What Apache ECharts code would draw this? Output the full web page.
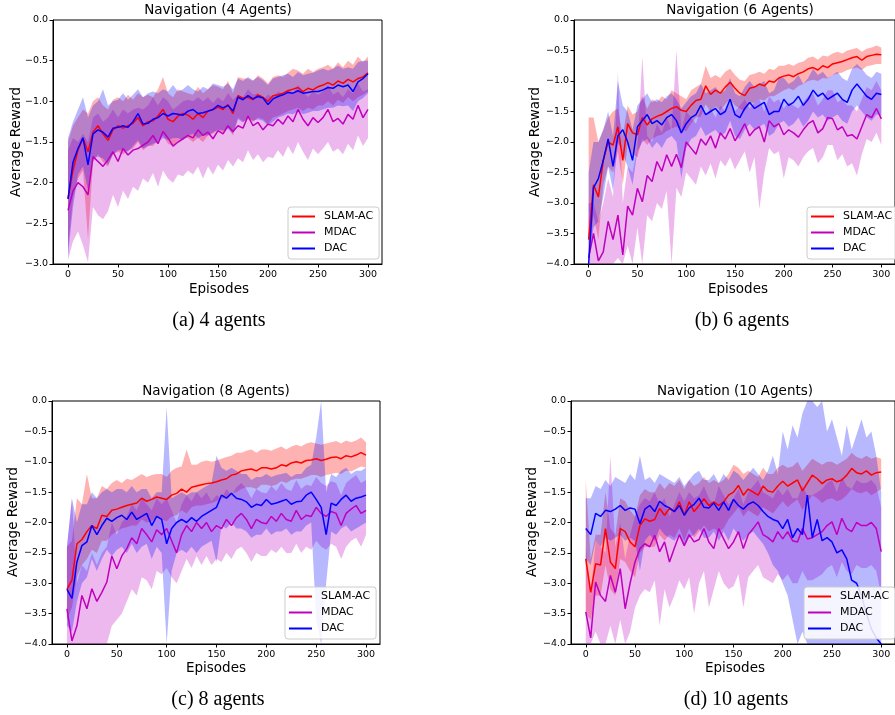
<!DOCTYPE html>
<html><head><meta charset="utf-8">
<script src="https://cdn.jsdelivr.net/npm/echarts@6.0.0/dist/echarts.min.js"></script>
<style>html,body{margin:0;padding:0;background:#fff}#c{width:895px;height:715px}</style>
</head><body><div id="c"></div>
<script>
// ---------------- DATA ----------------
const EPISODES = [0,5,10,15,20,25,30,35,40,45,50,55,60,65,70,75,80,85,90,95,100,105,110,115,120,125,130,135,140,145,150,155,160,165,170,175,180,185,190,195,200,205,210,215,220,225,230,235,240,245,250,255,260,265,270,275,280,285,290,295,300];
const X_TICKS = [0,50,100,150,200,250,300];
const METHODS = ['SLAM-AC','MDAC','DAC'];
const TITLES = ['Navigation (4 Agents)','Navigation (6 Agents)','Navigation (8 Agents)','Navigation (10 Agents)'];
const CAPTIONS = ['(a) 4 agents','(b) 6 agents','(c) 8 agents','(d) 10 agents'];
const Y_MINS = [-3,-4,-4,-4];

// Panel (a) 4 agents
const A_SLAM = [-2.2,-1.85,-1.6,-1.45,-1.62,-1.38,-1.3,-1.4,-1.48,-1.35,
-1.3,-1.33,-1.3,-1.27,-1.2,-1.3,-1.25,-1.24,-1.18,-1.1,
-1.22,-1.25,-1.18,-1.15,-1.17,-1.22,-1.15,-1.2,-1.12,-1.1,
-1.07,-1.1,-1.04,-1.15,-0.93,-0.96,-0.95,-0.98,-0.92,-0.95,
-1.0,-0.93,-0.92,-0.9,-0.87,-0.85,-0.83,-0.88,-0.84,-0.86,
-0.82,-0.8,-0.77,-0.8,-0.75,-0.78,-0.73,-0.76,-0.72,-0.7,-0.65];
const A_SLAM_HI = [-1.5,-1.3,-1.2,-1.1,-1.15,-1.0,-0.95,-1.05,-1.1,-0.98,
-0.95,-1.0,-0.92,-0.98,-0.9,-0.95,-0.92,-0.95,-0.85,-0.7,
-0.9,-0.95,-0.85,-0.88,-0.9,-0.92,-0.82,-0.9,-0.85,-0.8,
-0.82,-0.85,-0.75,-0.9,-0.7,-0.72,-0.72,-0.75,-0.68,-0.72,
-0.78,-0.7,-0.68,-0.7,-0.65,-0.6,-0.62,-0.66,-0.6,-0.64,
-0.6,-0.58,-0.55,-0.6,-0.52,-0.58,-0.5,-0.55,-0.45,-0.52,-0.45];
const A_SLAM_LO = [-2.8,-2.2,-1.95,-1.85,-2.7,-1.75,-1.65,-1.75,-1.8,-1.65,
-1.62,-1.65,-1.6,-1.58,-1.5,-1.6,-1.55,-1.55,-1.48,-1.42,
-1.52,-1.55,-1.48,-1.45,-1.45,-1.5,-1.45,-1.5,-1.42,-1.4,
-1.35,-1.38,-1.32,-1.42,-1.2,-1.25,-1.22,-1.25,-1.2,-1.22,
-1.28,-1.2,-1.18,-1.15,-1.12,-1.1,-1.08,-1.12,-1.08,-1.1,
-1.05,-1.05,-1.0,-1.05,-0.98,-1.02,-0.95,-1.0,-0.95,-0.92,-0.88];
const A_DAC = [-2.2,-1.75,-1.58,-1.45,-1.78,-1.4,-1.35,-1.38,-1.44,-1.33,
-1.32,-1.3,-1.32,-1.25,-1.15,-1.28,-1.27,-1.22,-1.2,-1.15,
-1.18,-1.15,-1.16,-1.17,-1.12,-1.1,-1.15,-1.14,-1.12,-1.1,
-1.05,-1.08,-1.05,-1.12,-0.95,-0.98,-0.93,-0.97,-0.94,-0.96,
-1.04,-0.97,-0.94,-0.92,-0.89,-0.9,-0.87,-0.9,-0.89,-0.88,
-0.88,-0.86,-0.83,-0.84,-0.8,-0.82,-0.8,-0.88,-0.76,-0.72,-0.66];
const A_DAC_HI = [-1.45,-1.25,-1.1,-0.95,-1.2,-1.05,-1.0,-0.85,-1.05,-1.0,
-0.98,-0.9,-0.98,-0.92,-0.85,-0.95,-0.9,-0.88,-0.9,-0.85,
-0.88,-0.8,-0.88,-0.85,-0.8,-0.85,-0.88,-0.82,-0.85,-0.78,
-0.8,-0.82,-0.78,-0.85,-0.72,-0.75,-0.7,-0.74,-0.7,-0.74,
-0.8,-0.72,-0.7,-0.68,-0.66,-0.7,-0.64,-0.68,-0.66,-0.65,
-0.62,-0.6,-0.62,-0.6,-0.56,-0.6,-0.58,-0.6,-0.52,-0.5,-0.5];
const A_DAC_LO = [-2.9,-2.3,-1.9,-1.8,-2.1,-1.7,-1.68,-1.7,-1.78,-1.65,
-1.6,-1.6,-1.62,-1.55,-1.48,-1.58,-1.55,-1.52,-1.5,-1.45,
-1.48,-1.45,-1.45,-1.48,-1.42,-1.4,-1.45,-1.42,-1.42,-1.38,
-1.35,-1.36,-1.34,-1.4,-1.22,-1.26,-1.2,-1.24,-1.22,-1.24,
-1.3,-1.25,-1.2,-1.18,-1.15,-1.16,-1.12,-1.16,-1.14,-1.12,
-1.12,-1.1,-1.08,-1.08,-1.05,-1.06,-1.05,-1.12,-1.0,-0.96,-0.9];
const A_MDAC = [-2.34,-2.1,-2.0,-2.05,-2.15,-1.68,-1.74,-1.8,-1.72,-1.62,
-1.74,-1.58,-1.66,-1.6,-1.58,-1.54,-1.5,-1.42,-1.52,-1.37,
-1.45,-1.55,-1.5,-1.46,-1.42,-1.45,-1.35,-1.42,-1.38,-1.46,
-1.36,-1.4,-1.3,-1.37,-1.3,-1.33,-1.18,-1.3,-1.26,-1.35,
-1.28,-1.3,-1.22,-1.28,-1.18,-1.25,-1.1,-1.22,-1.3,-1.2,
-1.26,-1.2,-1.1,-1.25,-1.21,-1.28,-1.16,-1.22,-1.05,-1.2,-1.1];
const A_MDAC_HI = [-1.6,-1.45,-1.5,-1.4,-1.5,-1.2,-1.15,-1.25,-1.2,-1.1,
-1.2,-1.1,-1.15,-1.1,-1.08,-1.1,-1.05,-0.95,-1.05,-0.95,
-1.0,-1.1,-1.05,-1.0,-0.98,-1.0,-0.95,-1.0,-0.95,-1.02,
-0.95,-1.0,-0.9,-0.98,-0.92,-0.95,-0.85,-0.92,-0.9,-0.98,
-0.92,-0.95,-0.88,-0.92,-0.85,-0.9,-0.8,-0.88,-0.95,-0.88,
-0.92,-0.88,-0.8,-0.92,-0.88,-0.95,-0.85,-0.9,-0.78,-0.88,-0.85];
const A_MDAC_LO = [-2.95,-2.72,-2.6,-2.77,-2.98,-2.3,-2.4,-2.45,-2.35,-2.15,
-2.3,-2.1,-2.2,-2.05,-2.1,-1.95,-2.0,-1.88,-2.05,-1.85,
-1.95,-2.0,-1.9,-1.92,-1.85,-1.9,-1.8,-1.95,-1.8,-1.9,
-1.78,-1.85,-1.72,-1.8,-1.7,-1.75,-1.6,-1.72,-1.65,-1.75,
-1.68,-1.7,-1.6,-1.68,-1.55,-1.65,-1.5,-1.62,-1.72,-1.58,
-1.65,-1.58,-1.5,-1.62,-1.58,-1.65,-1.52,-1.6,-1.42,-1.55,-1.45];

// Panel (b) 6 agents
const B_SLAM = [-3.6,-2.7,-2.9,-2.3,-2.0,-2.05,-1.75,-2.3,-1.7,-1.85,
-1.88,-1.6,-1.72,-1.62,-1.58,-1.55,-1.5,-1.45,-1.42,-1.48,
-1.5,-1.4,-1.32,-1.3,-1.08,-1.22,-1.15,-1.2,-1.1,-1.02,
-1.12,-1.2,-1.24,-1.12,-1.1,-1.05,-1.08,-1.0,-1.02,-0.95,
-0.92,-0.9,-0.93,-0.88,-0.85,-0.8,-0.78,-0.82,-0.75,-0.78,
-0.72,-0.7,-0.68,-0.65,-0.62,-0.6,-0.66,-0.6,-0.58,-0.56,-0.57];
const B_SLAM_HI = [-1.6,-1.6,-2.0,-1.8,-1.6,-1.5,-1.45,-1.9,-1.4,-1.55,
-1.5,-1.25,-1.45,-1.3,-1.35,-1.25,-1.3,-1.15,-1.2,-1.25,
-1.3,-1.15,-1.1,-1.05,-0.75,-0.95,-0.9,-0.95,-0.85,-0.8,
-0.9,-0.98,-1.0,-0.9,-0.88,-0.85,-0.88,-0.8,-0.82,-0.75,
-0.75,-0.72,-0.75,-0.7,-0.68,-0.62,-0.6,-0.65,-0.58,-0.6,
-0.55,-0.52,-0.55,-0.5,-0.48,-0.46,-0.52,-0.47,-0.45,-0.42,-0.45];
const B_SLAM_LO = [-4.0,-3.2,-3.6,-2.7,-2.4,-2.5,-2.15,-2.7,-2.05,-2.2,
-2.25,-1.95,-2.05,-1.95,-1.9,-1.88,-1.82,-1.78,-1.75,-1.8,
-1.82,-1.7,-1.6,-1.58,-1.38,-1.5,-1.42,-1.48,-1.38,-1.3,
-1.4,-1.45,-1.5,-1.38,-1.35,-1.3,-1.32,-1.25,-1.25,-1.2,
-1.15,-1.12,-1.15,-1.08,-1.05,-1.0,-0.98,-1.0,-0.95,-0.96,
-0.9,-0.88,-0.86,-0.82,-0.8,-0.78,-0.82,-0.76,-0.74,-0.72,-0.72];
const B_DAC = [-4.0,-2.75,-2.6,-2.3,-1.95,-2.4,-1.9,-1.8,-2.0,-2.3,
-1.75,-1.65,-1.55,-1.7,-1.65,-1.72,-1.6,-1.55,-1.65,-1.85,
-1.7,-1.6,-1.55,-1.4,-1.55,-1.5,-1.45,-1.55,-1.5,-1.3,
-1.55,-1.6,-1.45,-1.35,-1.45,-1.4,-1.35,-1.55,-1.5,-1.5,
-1.3,-1.4,-1.35,-1.25,-1.4,-1.3,-1.15,-1.25,-1.2,-1.3,
-1.25,-1.2,-1.3,-1.35,-1.15,-1.05,-1.15,-1.25,-1.3,-1.2,-1.22];
const B_DAC_HI = [-2.5,-2.0,-2.0,-1.8,-1.5,-1.9,-1.0,-1.4,-1.5,-1.8,
-1.4,-1.3,-1.2,-1.35,-1.3,-1.35,-1.25,-1.2,-1.3,-1.45,
-1.35,-1.25,-1.2,-1.05,-1.2,-1.15,-1.1,-1.2,-1.15,-0.95,
-1.2,-1.25,-1.1,-1.0,-1.1,-1.05,-1.0,-1.2,-1.15,-0.95,
-0.95,-1.05,-1.0,-0.9,-1.05,-0.95,-0.8,-0.9,-0.85,-0.95,
-0.9,-0.85,-0.95,-1.0,-0.8,-0.72,-0.8,-0.9,-0.95,-0.85,-0.88];
const B_DAC_LO = [-4.0,-3.4,-3.3,-2.9,-2.4,-2.8,-2.0,-2.2,-2.4,-2.7,
-2.15,-2.0,-1.95,-2.1,-2.0,-2.1,-1.95,-1.9,-2.0,-2.6,
-2.1,-1.95,-1.9,-1.75,-1.9,-1.85,-1.8,-1.9,-1.85,-1.65,
-1.9,-1.95,-1.8,-1.7,-1.8,-1.75,-1.7,-1.9,-1.85,-1.7,
-1.65,-1.75,-1.7,-1.6,-1.75,-1.65,-1.5,-1.6,-1.55,-1.65,
-1.6,-1.55,-1.65,-1.7,-1.5,-1.4,-1.5,-1.6,-1.65,-1.55,-1.56];
const B_MDAC = [-3.9,-3.5,-3.95,-3.8,-3.3,-3.6,-3.2,-3.85,-3.05,-3.2,
-2.76,-2.98,-2.55,-2.65,-2.32,-2.48,-2.21,-2.4,-2.2,-2.42,
-2.0,-2.1,-2.2,-1.95,-2.05,-1.9,-2.1,-1.85,-1.95,-1.78,
-1.98,-1.85,-1.7,-1.9,-1.8,-1.75,-2.0,-1.65,-1.75,-1.7,
-1.88,-1.8,-1.85,-1.92,-1.8,-1.7,-1.65,-1.85,-1.78,-1.6,
-1.62,-1.8,-1.75,-1.9,-1.88,-1.95,-1.75,-1.55,-1.6,-1.45,-1.62];
const B_MDAC_HI = [-3.0,-3.0,-3.3,-3.0,-2.6,-2.9,-0.85,-3.0,-2.4,-2.5,
-2.1,-0.6,-1.9,-2.0,-1.7,-1.85,-1.6,-1.8,-0.5,-1.8,
-1.5,-1.6,-1.7,-1.45,-1.55,-1.45,-1.6,-1.4,-1.5,-1.35,
-1.5,-1.4,-1.3,-1.45,-1.35,-1.3,-1.5,-1.25,-1.35,-1.3,
-1.45,-1.35,-1.4,-1.45,-1.35,-1.25,-1.2,-1.4,-1.3,-1.15,
-1.15,-1.35,-1.3,-1.4,-1.4,-1.5,-1.3,-1.1,-1.15,-1.0,-1.15];
const B_MDAC_LO = [-4.0,-4.0,-4.0,-4.0,-4.0,-4.0,-3.9,-4.0,-3.7,-4.0,
-3.4,-4.0,-3.2,-3.3,-3.0,-3.1,-2.8,-4.0,-2.75,-2.9,
-2.5,-2.6,-2.7,-2.4,-2.55,-2.35,-2.6,-2.3,-2.4,-2.25,
-2.45,-2.3,-2.15,-2.5,-2.25,-3.1,-2.5,-2.1,-2.2,-2.15,
-2.6,-2.25,-2.3,-2.4,-2.25,-2.15,-2.1,-2.35,-2.25,-2.05,
-2.05,-2.3,-2.2,-2.4,-2.35,-2.55,-2.2,-1.95,-2.0,-1.85,-2.05];

// Panel (c) 8 agents
const C_SLAM = [-3.1,-2.95,-2.35,-2.28,-2.15,-2.05,-2.1,-1.88,-1.9,-1.8,
-1.78,-1.75,-1.72,-1.7,-1.68,-1.6,-1.65,-1.62,-1.58,-1.6,
-1.62,-1.55,-1.52,-1.45,-1.5,-1.42,-1.4,-1.38,-1.36,-1.35,
-1.33,-1.3,-1.28,-1.22,-1.2,-1.15,-1.13,-1.12,-1.15,-1.1,
-1.1,-1.12,-1.1,-1.05,-1.07,-1.02,-1.0,-1.02,-0.98,-0.97,
-0.95,-0.98,-0.96,-0.93,-0.92,-0.95,-0.9,-0.92,-0.89,-0.85,-0.89];
const C_SLAM_HI = [-2.4,-2.3,-1.6,-1.7,-1.2,-1.6,-1.6,-1.4,-1.45,-1.35,
-1.3,-1.35,-1.28,-1.3,-1.25,-1.2,-1.25,-1.22,-1.2,-1.2,
-1.25,-1.15,-1.1,-1.08,-0.8,-1.05,-1.05,-1.0,-0.98,-1.0,
-0.98,-0.95,-0.92,-0.9,-0.85,-0.85,-0.82,-0.8,-0.85,-0.8,
-0.8,-0.82,-0.78,-0.75,-0.8,-0.75,-0.72,-0.75,-0.7,-0.68,
-0.7,-0.72,-0.7,-0.68,-0.66,-0.7,-0.65,-0.68,-0.65,-0.6,-0.68];
const C_SLAM_LO = [-3.6,-3.4,-2.9,-2.7,-2.6,-2.45,-2.5,-2.3,-2.3,-2.2,
-2.15,-2.1,-2.08,-2.05,-2.05,-1.95,-2.0,-1.98,-1.92,-1.95,
-1.98,-1.9,-1.88,-1.8,-1.85,-1.75,-1.72,-1.72,-1.7,-1.68,
-1.65,-1.6,-1.6,-1.52,-1.5,-1.45,-1.42,-1.42,-1.45,-1.38,
-1.38,-1.4,-1.38,-1.32,-1.35,-1.3,-1.28,-1.28,-1.25,-1.22,
-1.22,-1.25,-1.22,-1.2,-1.18,-1.2,-1.15,-1.16,-1.12,-1.08,-1.1];
const C_DAC = [-3.1,-3.25,-2.65,-2.38,-2.32,-2.05,-2.2,-2.05,-1.93,-1.98,
-1.92,-1.88,-1.95,-1.83,-1.95,-1.9,-1.85,-2.05,-1.9,-1.95,
-2.35,-2.1,-2.0,-1.95,-2.0,-1.92,-1.98,-1.9,-1.85,-1.8,
-1.75,-1.55,-1.6,-1.52,-1.6,-1.62,-1.66,-1.75,-1.7,-1.72,
-1.62,-1.7,-1.68,-1.65,-1.62,-1.7,-1.66,-1.65,-1.55,-1.5,
-1.62,-1.75,-2.2,-1.68,-1.72,-1.62,-1.55,-1.65,-1.6,-1.58,-1.55];
const C_DAC_HI = [-2.4,-1.6,-2.0,-1.7,-1.7,-1.5,-1.6,-1.5,-1.45,-1.5,
-1.45,-1.45,-1.5,-1.4,-1.5,-1.45,-1.45,-1.6,-1.5,-1.5,
-0.1,-1.6,-1.55,-1.5,-1.55,-1.5,-1.5,-1.45,-1.4,-1.35,
-0.9,-1.1,-1.15,-1.1,-1.15,-1.2,-1.2,-1.3,-1.25,-1.25,
-1.2,-1.25,-1.22,-1.2,-1.18,-1.25,-1.2,-1.2,-1.1,-1.05,
-0.6,0.0,-1.5,-1.2,-1.25,-1.15,-1.1,-1.2,-1.15,-1.15,-1.1];
const C_DAC_LO = [-3.7,-3.8,-3.3,-3.0,-2.9,-2.6,-2.8,-2.6,-2.45,-2.55,
-2.45,-2.4,-2.5,-2.35,-2.5,-2.4,-2.35,-2.6,-2.4,-2.5,
-4.0,-2.8,-2.5,-2.45,-2.5,-2.4,-2.5,-2.4,-2.35,-2.3,
-2.65,-2.05,-2.1,-2.0,-2.1,-2.1,-2.15,-2.25,-2.2,-2.2,
-2.1,-2.2,-2.15,-2.15,-2.1,-2.2,-2.15,-2.15,-2.05,-2.0,
-3.6,-4.0,-3.0,-2.15,-2.2,-2.1,-2.05,-2.15,-2.1,-2.05,-2.0];
const C_MDAC = [-3.42,-3.95,-3.7,-3.2,-3.42,-3.09,-3.3,-3.15,-2.98,-2.55,
-2.76,-2.55,-2.43,-2.25,-2.35,-2.1,-2.2,-2.32,-2.12,-2.2,
-2.1,-2.3,-2.5,-2.2,-2.05,-2.15,-2.0,-2.1,-2.0,-2.15,
-2.05,-2.1,-1.95,-2.05,-1.92,-1.85,-1.95,-2.1,-1.95,-2.0,
-2.02,-1.9,-1.98,-1.85,-1.95,-1.98,-1.8,-1.95,-1.88,-1.9,
-1.75,-1.85,-1.9,-1.82,-1.85,-2.05,-1.85,-1.78,-1.72,-1.85,-1.8];
const C_MDAC_HI = [-2.4,-1.6,-3.0,-2.7,-2.8,-2.5,-2.7,-2.5,-2.4,-2.0,
-2.2,-2.0,-1.9,-1.7,-1.8,-1.6,-1.7,-1.8,-1.6,-1.7,
-1.6,-1.8,-2.0,-1.7,-1.55,-1.65,-1.5,-1.6,-1.5,-1.65,
-1.55,-1.6,-1.45,-1.55,-1.42,-1.35,-1.45,-1.6,-1.45,-1.5,
-1.52,-1.4,-1.48,-1.35,-1.45,-1.48,-1.3,-1.45,-1.38,-1.4,
-1.25,-1.35,-1.4,-1.32,-1.35,-1.55,-1.35,-1.28,-1.22,-1.35,-1.3];
const C_MDAC_LO = [-4.0,-4.0,-4.0,-4.0,-4.0,-4.0,-4.0,-4.0,-4.0,-3.7,
-3.6,-3.5,-3.3,-3.1,-3.2,-2.9,-2.95,-3.1,-2.8,-2.85,
-2.75,-2.9,-3.0,-2.8,-2.6,-2.75,-2.55,-2.7,-2.55,-2.7,
-2.6,-2.65,-2.5,-2.6,-2.45,-2.4,-2.5,-2.65,-2.5,-2.55,
-2.55,-2.45,-2.5,-2.4,-2.5,-2.5,-2.35,-2.5,-2.4,-2.45,
-2.3,-2.4,-2.45,-2.35,-2.4,-2.6,-2.4,-2.3,-2.25,-2.4,-2.2];

// Panel (d) 10 agents
const D_SLAM = [-2.6,-3.15,-2.68,-2.7,-2.1,-2.65,-2.76,-2.1,-2.15,-2.32,
-2.4,-2.05,-1.94,-1.98,-1.95,-1.77,-1.88,-1.77,-1.82,-1.66,
-1.88,-1.66,-1.82,-1.72,-1.61,-1.72,-1.66,-1.72,-1.66,-1.55,
-1.5,-1.39,-1.55,-1.45,-1.5,-1.55,-1.4,-1.48,-1.5,-1.4,
-1.32,-1.4,-1.35,-1.3,-1.48,-1.35,-1.22,-1.28,-1.36,-1.3,
-1.28,-1.33,-1.3,-1.22,-1.11,-1.18,-1.2,-1.15,-1.22,-1.18,-1.17];
const D_SLAM_HI = [-1.3,-2.6,-2.2,-2.2,-1.5,-2.1,-2.2,-1.6,-1.65,-1.8,
-1.9,-1.55,-1.45,-1.5,-1.5,-1.35,-1.45,-1.35,-1.4,-1.3,
-1.45,-1.3,-1.4,-1.35,-1.25,-1.35,-1.3,-1.35,-1.3,-1.2,
-1.05,-1.1,-1.2,-1.15,-1.2,-1.25,-1.1,-1.2,-1.2,-1.1,
-1.05,-1.1,-1.08,-1.0,-1.15,-1.05,-0.95,-1.0,-1.05,-1.0,
-1.0,-1.05,-1.0,-0.95,-0.85,-0.92,-0.95,-0.9,-0.95,-0.92,-0.95];
const D_SLAM_LO = [-3.5,-3.6,-3.2,-3.2,-2.7,-3.1,-3.2,-2.6,-2.65,-2.8,
-2.9,-2.5,-2.4,-2.4,-2.4,-2.2,-2.3,-2.2,-2.25,-2.1,
-2.3,-2.1,-2.25,-2.15,-2.05,-2.15,-2.1,-2.15,-2.1,-1.95,
-1.85,-1.75,-1.9,-1.8,-1.85,-1.9,-1.75,-1.8,-1.85,-1.75,
-1.65,-1.75,-1.68,-1.62,-1.8,-1.68,-1.55,-1.6,-1.68,-1.62,
-1.6,-1.65,-1.62,-1.55,-1.45,-1.5,-1.52,-1.48,-1.55,-1.5,-1.45];
const D_DAC = [-2.1,-2.2,-1.85,-1.9,-1.8,-1.82,-1.78,-1.72,-1.8,-1.76,
-1.78,-2.02,-1.78,-1.72,-1.82,-1.65,-1.72,-1.76,-1.82,-1.72,
-1.88,-1.76,-1.7,-1.6,-1.75,-1.76,-1.68,-1.8,-1.66,-1.8,
-1.62,-1.72,-1.78,-1.7,-1.66,-1.72,-1.82,-1.9,-1.95,-1.98,
-2.1,-1.95,-2.25,-2.1,-2.2,-1.55,-2.25,-1.95,-2.3,-2.25,
-2.32,-2.5,-2.45,-2.6,-2.95,-3.0,-3.2,-3.5,-3.75,-3.9,-4.0];
const D_DAC_HI = [-1.6,-1.6,-1.4,-1.45,-1.3,-1.4,-1.25,-1.3,-1.35,-1.2,
-1.3,-0.9,-1.3,-1.25,-1.35,-1.2,-1.25,-1.3,-1.35,-1.25,
-1.4,-1.3,-1.2,-1.15,-1.3,-1.3,-1.2,-1.35,-1.2,-1.3,
-1.15,-1.2,-1.3,-1.2,-1.1,-1.2,-1.3,-1.15,-0.9,-1.2,
-0.5,-0.8,-0.4,-0.6,-0.2,0.0,0.0,-0.1,0.0,-0.5,
-0.3,-0.6,-0.9,-0.4,-0.8,-0.55,-0.3,-0.6,-0.5,-0.9,-1.5];
const D_DAC_LO = [-2.6,-2.7,-2.3,-2.4,-2.25,-2.3,-2.25,-2.2,-2.3,-2.25,
-2.3,-2.8,-2.3,-2.2,-2.3,-2.1,-2.2,-2.25,-2.3,-2.2,
-2.4,-2.25,-2.2,-2.1,-2.25,-2.25,-2.15,-2.3,-2.15,-2.3,
-2.1,-2.2,-2.3,-2.2,-2.15,-2.25,-2.35,-2.5,-2.7,-2.8,
-3.0,-3.2,-3.6,-4.0,-3.8,-4.0,-4.0,-4.0,-4.0,-4.0,
-4.0,-4.0,-4.0,-4.0,-4.0,-4.0,-4.0,-4.0,-4.0,-4.0,-4.0];
const D_MDAC = [-3.47,-3.9,-2.98,-3.2,-3.3,-2.87,-3.15,-2.76,-3.42,-3.0,
-2.65,-2.43,-2.35,-2.4,-2.21,-2.48,-2.32,-2.65,-2.42,-2.2,
-2.38,-2.2,-2.32,-2.28,-2.1,-2.32,-2.43,-2.1,-2.27,-2.43,
-2.32,-2.15,-2.43,-2.2,-2.1,-1.99,-2.2,-2.25,-2.32,-2.15,
-2.27,-2.15,-2.3,-2.32,-2.1,-2.27,-2.25,-2.2,-2.15,-2.05,
-1.99,-2.2,-1.93,-2.1,-2.15,-2.0,-2.05,-2.05,-2.0,-2.1,-2.48];
const D_MDAC_HI = [-2.4,-3.2,-2.3,-2.4,-2.5,-0.9,-2.4,-2.0,-2.6,-2.2,
-1.9,-1.7,-1.6,-1.65,-1.5,-1.7,-1.6,-1.9,-1.7,-1.5,
-1.65,-1.5,-1.6,-1.55,-1.4,-1.6,-1.7,-1.4,-1.55,-1.7,
-1.6,-1.45,-1.7,-1.5,-1.4,-1.3,-1.5,-1.55,-1.6,-1.45,
-1.55,-1.45,-1.6,-1.6,-1.4,-1.55,-1.55,-1.5,-1.45,-1.35,
-1.3,-1.5,-1.25,-1.4,-1.45,-1.3,-1.35,-1.35,-1.3,-1.4,-1.75];
const D_MDAC_LO = [-4.0,-4.0,-3.8,-4.0,-4.0,-3.7,-4.0,-3.6,-4.0,-3.8,
-3.4,-3.2,-3.1,-3.15,-2.95,-3.7,-3.1,-3.4,-3.2,-2.95,
-3.1,-2.9,-3.5,-3.0,-2.8,-3.4,-3.1,-2.8,-3.0,-3.1,
-3.05,-2.85,-3.4,-2.9,-2.8,-2.7,-2.9,-2.95,-3.0,-2.85,
-2.95,-2.85,-3.0,-3.0,-2.8,-2.95,-2.95,-2.9,-2.85,-2.75,
-2.7,-2.9,-2.65,-2.8,-2.85,-2.7,-2.75,-2.75,-2.7,-2.8,-3.2];

// ---------------- LAYOUT / STYLE ----------------
const PANEL_DATA = [
  {'SLAM-AC':[A_SLAM,A_SLAM_LO,A_SLAM_HI], 'MDAC':[A_MDAC,A_MDAC_LO,A_MDAC_HI], 'DAC':[A_DAC,A_DAC_LO,A_DAC_HI]},
  {'SLAM-AC':[B_SLAM,B_SLAM_LO,B_SLAM_HI], 'MDAC':[B_MDAC,B_MDAC_LO,B_MDAC_HI], 'DAC':[B_DAC,B_DAC_LO,B_DAC_HI]},
  {'SLAM-AC':[C_SLAM,C_SLAM_LO,C_SLAM_HI], 'MDAC':[C_MDAC,C_MDAC_LO,C_MDAC_HI], 'DAC':[C_DAC,C_DAC_LO,C_DAC_HI]},
  {'SLAM-AC':[D_SLAM,D_SLAM_LO,D_SLAM_HI], 'MDAC':[D_MDAC,D_MDAC_LO,D_MDAC_HI], 'DAC':[D_DAC,D_DAC_LO,D_DAC_HI]}
];
const LAYOUT = [
  {grid:{left:53, top:20, width:329, height:244}, title:[218,10], xname:[219,289], yname:[16,142], caption:[219,321], legend:[288,207]},
  {grid:{left:574, top:20, width:329, height:244}, title:[740,10], xname:[738,289], yname:[535,142], caption:[742,321], legend:[807,207]},
  {grid:{left:52, top:401, width:328, height:243}, title:[216,391], xname:[216,668], yname:[13,522], caption:[218,700], legend:[285,587]},
  {grid:{left:571, top:401, width:329, height:243}, title:[735,391], xname:[735,668], yname:[532,522], caption:[736,700], legend:[804,587]}
];
const LINE_COLOR = {'SLAM-AC':'#ff0000', 'MDAC':'#bf00bf', 'DAC':'#0000ff'};
const BAND_COLOR = {'SLAM-AC':'rgba(255,0,0,0.3)', 'MDAC':'rgba(191,0,191,0.28)', 'DAC':'rgba(0,0,255,0.28)'};
const FONT = 'DejaVu Sans, sans-serif';

function fmtY(v){
  if (Math.abs(v) < 1e-9) return '0.0';
  return (v < 0 ? '\u2212' : '') + Math.abs(v).toFixed(1);
}

function bandSeries(gi, lo, hi, color){
  return {
    type:'custom', xAxisIndex:gi, yAxisIndex:gi, silent:true, z:1, clip:true,
    data: EPISODES.map((x,k)=>[x, lo[k], hi[k]]),
    encode:{x:0, y:[1,2]},
    renderItem: function(params, api){
      if (params.dataIndex !== 0) return null;
      const pts = [];
      for (let k=0;k<EPISODES.length;k++) pts.push(api.coord([EPISODES[k], hi[k]]));
      for (let k=EPISODES.length-1;k>=0;k--) pts.push(api.coord([EPISODES[k], lo[k]]));
      return {type:'polygon', shape:{points:pts}, style:{fill:color, stroke:null}};
    }
  };
}

const grids=[], xAxes=[], yAxes=[], series=[], legends=[], graphics=[];
for (let i=0;i<4;i++){
  const L = LAYOUT[i];
  grids.push(Object.assign({show:true, borderColor:'#000', borderWidth:1, backgroundColor:'transparent', containLabel:false}, L.grid));
  xAxes.push({
    type:'value', gridIndex:i, min:-15, max:314,
    axisLine:{show:true, onZero:false, lineStyle:{color:'#000', width:1}},
    axisTick:{show:true, inside:false, length:3.5, lineStyle:{color:'#000', width:1}, customValues:X_TICKS},
    axisLabel:{show:true, margin:6, fontSize:9.5, fontFamily:FONT, color:'#000', customValues:X_TICKS, formatter: v=>String(v)},
    splitLine:{show:false}
  });
  yAxes.push({
    type:'value', gridIndex:i, min:Y_MINS[i], max:0, interval:0.5,
    axisLine:{show:true, onZero:false, lineStyle:{color:'#000', width:1}},
    axisTick:{show:true, inside:false, length:3.5, lineStyle:{color:'#000', width:1}},
    axisLabel:{show:true, margin:5, fontSize:9.5, fontFamily:FONT, color:'#000', formatter: fmtY},
    splitLine:{show:false}
  });
  METHODS.forEach(m=>{
    const d = PANEL_DATA[i][m];
    series.push(bandSeries(i, d[1], d[2], BAND_COLOR[m]));
  });
  METHODS.forEach(m=>{
    const d = PANEL_DATA[i][m];
    series.push({
      type:'line', name:m, xAxisIndex:i, yAxisIndex:i, z:3,
      data: EPISODES.map((x,k)=>[x, d[0][k]]),
      symbol:'none', showSymbol:false, smooth:false,
      lineStyle:{color:LINE_COLOR[m], width:1.5},
      itemStyle:{color:LINE_COLOR[m]},
      clip:true
    });
  });
  legends.push({
    data: METHODS.map(m=>({name:m, icon:'rect', itemStyle:{color:LINE_COLOR[m]}})),
    orient:'vertical', left:L.legend[0], top:L.legend[1],
    itemWidth:23, itemHeight:2, itemGap:3, padding:[3,6,4,4],
    backgroundColor:'rgba(255,255,255,0.85)', borderColor:'#cccccc', borderWidth:1, borderRadius:3,
    textStyle:{fontSize:11, lineHeight:13, fontFamily:FONT, color:'#000', padding:[0,0,0,4]},
    selectedMode:false
  });
  graphics.push({type:'text', x:L.title[0], y:L.title[1], style:{text:TITLES[i], font:'13.5px '+FONT, fill:'#000', textAlign:'center', textVerticalAlign:'middle'}});
  graphics.push({type:'text', x:L.xname[0], y:L.xname[1], style:{text:'Episodes', font:'13.5px '+FONT, fill:'#000', textAlign:'center', textVerticalAlign:'middle'}});
  graphics.push({type:'text', x:L.yname[0], y:L.yname[1], rotation:Math.PI/2, style:{text:'Average Reward', font:'13.5px '+FONT, fill:'#000', textAlign:'center', textVerticalAlign:'middle'}});
  graphics.push({type:'text', x:L.caption[0], y:L.caption[1], style:{text:CAPTIONS[i], font:'20px "Liberation Serif", serif', fill:'#000', textAlign:'center', textVerticalAlign:'middle'}});
}

const chart = echarts.init(document.getElementById('c'), null, {renderer:'canvas', width:895, height:715});
chart.setOption({
  animation:false,
  backgroundColor:'#ffffff',
  grid:grids, xAxis:xAxes, yAxis:yAxes, legend:legends, series:series,
  graphic:graphics
});
</script>
</body></html>
